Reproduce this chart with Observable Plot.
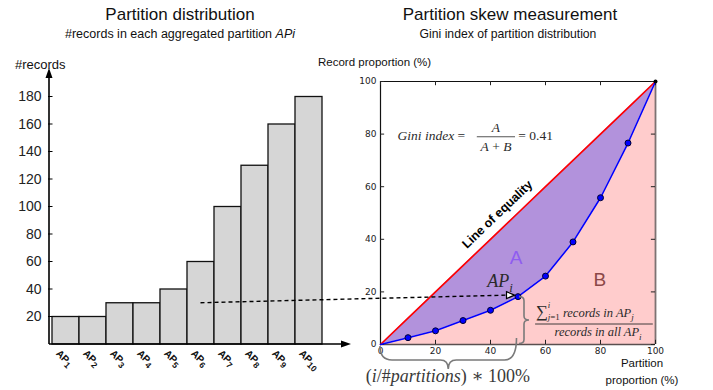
<!DOCTYPE html>
<html><head><meta charset="utf-8">
<script src="https://cdn.jsdelivr.net/npm/d3@7"></script>
<script src="https://cdn.jsdelivr.net/npm/@observablehq/plot@0.6"></script>
<style>
body{margin:0;background:#fff;}
#wrap{position:relative;width:713px;height:390px;overflow:hidden;font-family:"Liberation Sans",Arial,sans-serif;color:#111;background:#fff}
#wrap svg{position:absolute;left:0;top:0}
.lbl{position:absolute;white-space:nowrap;line-height:1}
.c{transform:translate(-50%,-50%)}
.l{transform:translate(0,-50%)}
</style></head><body><div id="wrap">
<div class="lbl c" style="left:180px;top:14px;font-size:17px">Partition distribution</div>
<div class="lbl c" style="left:180px;top:34px;font-size:12.5px">#records in each aggregated partition <i>APi</i></div>
<div class="lbl c" style="left:510px;top:14px;font-size:17px">Partition skew measurement</div>
<div class="lbl c" style="left:508px;top:34px;font-size:12.2px">Gini index of partition distribution</div>
<div class="lbl l" style="left:15px;top:64px;font-size:13px">#records</div>
<div class="lbl l" style="left:318px;top:63px;font-size:11.5px">Record proportion (%)</div>
<div class="lbl c" style="left:642px;top:364px;font-size:11.5px">Partition</div>
<div class="lbl c" style="left:642px;top:381px;font-size:11.5px">proportion (%)</div>
</div>
<script>
// ---- data ----
const partitions = ["AP1","AP2","AP3","AP4","AP5","AP6","AP7","AP8","AP9","AP10"];
const partitionNumbers = ["1","2","3","4","5","6","7","8","9","10"];
const records = [20, 20, 30, 30, 40, 60, 100, 130, 160, 180];
const barTicks = [20, 40, 60, 80, 100, 120, 140, 160, 180];
const partitionProportion = [0, 10, 20, 30, 40, 50, 60, 70, 80, 90, 100];
const recordProportion = [0, 2.6, 5.2, 9.1, 13.0, 18.2, 26.0, 39.0, 55.8, 76.6, 100];
const skewTicks = [0, 20, 40, 60, 80, 100];
const giniIndex = 0.41;
const highlightedPoint = 5;      // AP_i on the curve (index in partitionProportion)
const arrowSource = {partition: "AP6", value: 30};

// annotation anchors (in the Gini chart's data units)
const equalityLabel = [{x: 42.5, y: 49.5, text: "Line of equality"}];
const areaLabels = [{x: 49.3, y: 33, text: "A", color: "#8f5cf0"}, {x: 79.8, y: 24.6, text: "B", color: "#8b4747"}];

const serif = "'Liberation Serif','DejaVu Serif',serif";
const barData = partitions.map((p, i) => ({p, v: records[i], n: partitionNumbers[i]}));
const lorenz = partitionProportion.map((x, i) => ({x, y: recordProportion[i]}));

const wrap = document.getElementById("wrap");

function leftAxes(index, scales, values, dims) {
  const {width, height, marginLeft: ml, marginRight: mr, marginTop: mt, marginBottom: mb} = dims;
  const x0 = ml, y0 = height - mb, xEnd = width - mr + 26;
  const g = d3.create("svg:g");
  g.append("path").attr("d", `M${x0},${y0}V${mt + 8}M${x0},${y0}H${xEnd - 8}`)
    .attr("stroke", "#000").attr("stroke-width", 1.6).attr("fill", "none");
  g.append("path").attr("d", `M${x0},${mt - 1}l-3.5,10h7zM${xEnd},${y0}l-10,-3.5v7z`).attr("fill", "#000");
  for (const t of barTicks) {
    const y = scales.y(t);
    g.append("line").attr("x1", x0 - 1).attr("x2", x0 + 3.5).attr("y1", y).attr("y2", y).attr("stroke", "#000").attr("stroke-width", 1);
  }
  // rotated category labels AP with subscript
  const bw = scales.x.bandwidth();
  for (const d of barData) {
    const tx = scales.x(d.p) + bw / 2 - 10, ty = scales.y(0) + 10;
    const t = g.append("text").attr("transform", `translate(${tx},${ty}) rotate(45)`)
      .attr("font-family", "'Liberation Sans',Arial,sans-serif").attr("font-weight", "bold")
      .attr("font-size", 10).attr("fill", "#111").attr("text-anchor", "start");
    t.append("tspan").text("AP");
    t.append("tspan").text(d.n).attr("dy", 2.5).attr("font-size", 8.5);
  }
  return g.node();
}

const left = Plot.plot({
  width: 713, height: 390,
  marginLeft: 49, marginRight: 388, marginTop: 69, marginBottom: 46,
  style: {background: "transparent", fontFamily: "'Liberation Sans',Arial,sans-serif", color: "#111"},
  x: {type: "band", domain: partitions, padding: 0, axis: null},
  y: {domain: [0, 200]},
  marks: [
    Plot.barY(barData, {x: "p", y: "v", fill: "#d6d6d6", stroke: "#111", strokeWidth: 1.3}),
    Plot.axisY({ticks: barTicks, tickSize: 0, tickPadding: 8, fontSize: 14, label: null, fill: "#222"}),
    leftAxes
  ]
});
left.style.position = "absolute";
wrap.appendChild(left);

const lx = left.scale("x"), ly = left.scale("y");
const arrowStart = [lx.apply(arrowSource.partition) + lx.bandwidth / 2, ly.apply(arrowSource.value)];

function texText(g, px, py, parts, {size = 12, anchor = "start", fill = "#2a2a2a"} = {}) {
  const t = g.append("text").attr("x", px).attr("y", py + size * 0.33).attr("font-family", serif)
    .attr("font-size", size).attr("text-anchor", anchor).attr("fill", fill);
  let shift = 0;
  for (const [s, k] of parts) {
    const target = k.startsWith("sub") ? size * 0.28 : k.startsWith("sup") ? -size * 0.4 : 0;
    const ts = t.append("tspan").text(s);
    if (target - shift) ts.attr("dy", target - shift);
    shift = target;
    ts.attr("font-style", k.endsWith("r") ? "normal" : "italic");
    if (target) ts.attr("font-size", size * 0.72);
    if (k === "bigr") ts.attr("font-size", size * 1.35);
  }
  return t;
}

function annotations(index, scales) {
  const X = scales.x, Y = scales.y;
  const g = d3.create("svg:g");
  const px = partitionProportion[highlightedPoint], py = recordProportion[highlightedPoint];
  // Gini formula
  texText(g, X(6.4), Y(79.1), [["Gini index", "i"], [" =", "r"]], {size: 13.5});
  texText(g, X(42.1), Y(82.3), [["A", "i"]], {size: 13.5, anchor: "middle"});
  g.append("line").attr("x1", X(35.2)).attr("x2", X(49.1)).attr("y1", Y(78.8)).attr("y2", Y(78.8)).attr("stroke", "#2a2a2a").attr("stroke-width", 0.8);
  texText(g, X(42.2), Y(75.2), [["A", "i"], [" + ", "r"], ["B", "i"]], {size: 13.5, anchor: "middle"});
  texText(g, X(50.3), Y(79.1), [[`= ${giniIndex}`, "r"]], {size: 13.5});
  // AP_i label
  texText(g, X(39.0), Y(24.1), [["AP", "i"], ["i", "sub"]], {size: 18});
  // sum fraction
  texText(g, X(56.6), Y(12.0), [["∑", "bigr"], ["j", "sub"], ["=1", "subr"], [" records in AP", "i"], ["j", "sub"]], {size: 12.5});
  texText(g, X(56.6) + 12, Y(12.0) - 4, [["i", "sup"]], {size: 12});
  g.append("line").attr("x1", X(56.4)).attr("x2", X(99.2)).attr("y1", Y(7.6)).attr("y2", Y(7.6)).attr("stroke", "#2a2a2a").attr("stroke-width", 0.9);
  texText(g, X(79.3), Y(4.5), [["records in all AP", "i"], ["i", "sub"]], {size: 12.5, anchor: "middle"});
  // bottom label
  texText(g, X(24.7), Y(-12.0), [["(", "r"], ["i", "i"], ["/#", "r"], ["partitions", "i"], [")", "r"], [" ∗ 100%", "r"]], {size: 18, anchor: "middle", fill: "#3a3a3a"});
  // vertical brace (record share)
  {
    const x0 = X(px) + 1.5, yT = Y(py) + 0.5, yB = Y(0) - 0.5, w = 10, ym = (yT + yB) / 2, xb = x0 + w / 2, r = 4;
    g.append("path").attr("d",
      `M${x0},${yT}Q${xb},${yT} ${xb},${yT + r}V${ym - r}Q${xb},${ym} ${x0 + w},${ym}Q${xb},${ym} ${xb},${ym + r}V${yB - r}Q${xb},${yB} ${x0},${yB}`)
      .attr("fill", "none").attr("stroke", "#7a7a7a").attr("stroke-width", 1.6);
  }
  // horizontal brace (partition share)
  {
    const x0 = X(0), x1 = X(px) - 1, y0 = Y(0) + 2, yb = y0 + 14, yt = yb + 9, xm = (x0 + x1) / 2, r = 12, r2 = 8;
    g.append("path").attr("d",
      `M${x0},${y0}Q${x0},${yb} ${x0 + r},${yb}H${xm - r2}Q${xm},${yb} ${xm},${yt}Q${xm},${yb} ${xm + r2},${yb}H${x1 - r}Q${x1},${yb} ${x1},${y0 - 8}`)
      .attr("fill", "none").attr("stroke", "#7a7a7a").attr("stroke-width", 1.6);
  }
  // dashed arrow from the bar chart to AP_i
  {
    const ex = X(px), ey = Y(py);
    g.append("line").attr("x1", arrowStart[0]).attr("y1", arrowStart[1]).attr("x2", ex - 11).attr("y2", ey - 1)
      .attr("stroke", "#000").attr("stroke-width", 1.4).attr("stroke-dasharray", "4,3");
    g.append("path").attr("d", `M${ex - 3},${ey - 1}L${ex - 11},${ey - 4.5}L${ex - 11},${ey + 2.5}Z`)
      .attr("fill", "#fff").attr("stroke", "#000").attr("stroke-width", 1.2);
  }
  return g.node();
}

const right = Plot.plot({
  width: 713, height: 390,
  marginLeft: 380, marginRight: 58, marginTop: 81, marginBottom: 46,
  style: {background: "transparent", overflow: "visible", fontFamily: "'DejaVu Sans',sans-serif", color: "#111"},
  x: {domain: [0, 100]},
  y: {domain: [0, 100]},
  marks: [
    Plot.areaY(lorenz, {x: "x", y: "y", fill: "#ffcccc"}),
    Plot.areaY(lorenz, {x: "x", y1: "y", y2: "x", fill: "#b292dc"}),
    Plot.ruleY([100], {stroke: "#111", strokeWidth: 1.2}),
    Plot.ruleX([0], {stroke: "#111", strokeWidth: 1.2}),
    Plot.ruleX([100], {stroke: "#7d7272", strokeWidth: 1.8}),
    Plot.ruleY([0], {stroke: "#5a4f4f", strokeWidth: 1.4}),
    Plot.ruleX(skewTicks, {x: d => d, y1: 0, y2: 1.6, stroke: "#222"}),
    Plot.ruleX(skewTicks, {x: d => d, y1: 100, y2: 98.4, stroke: "#222"}),
    Plot.ruleY(skewTicks, {y: d => d, x1: 0, x2: 1.5, stroke: "#222"}),
    Plot.ruleY(skewTicks, {y: d => d, x1: 100, x2: 98.5, stroke: "#222"}),
    Plot.line(lorenz, {x: "x", y: "x", stroke: "#ff0000", strokeWidth: 1.6}),
    Plot.line(lorenz, {x: "x", y: "y", stroke: "#0000ff", strokeWidth: 1.6}),
    Plot.dot(lorenz.slice(1, -1), {x: "x", y: "y", r: 3, fill: "#0000ff", stroke: "#000033", strokeWidth: 1}),
    Plot.dot(lorenz.slice(-1), {x: "x", y: "y", r: 2, fill: "#000", stroke: "none"}),
    Plot.axisX({ticks: skewTicks, tickSize: 0, tickPadding: 3, fontSize: 9, label: null, fill: "#222"}),
    Plot.axisY({ticks: skewTicks, tickSize: 0, tickPadding: 4, fontSize: 9, label: null, fill: "#222"}),
    Plot.text(equalityLabel, {x: "x", y: "y", text: "text", rotate: -43.7, fontSize: 12.5, fontWeight: "bold",
      fontFamily: "'Liberation Sans',Arial,sans-serif", fill: "#000"}),
    Plot.text(areaLabels, {x: "x", y: "y", text: "text", fill: "color", fontSize: 19,
      fontFamily: "'Liberation Sans',Arial,sans-serif"}),
    annotations
  ]
});
right.style.position = "absolute";
wrap.appendChild(right);
</script>
</body></html>
